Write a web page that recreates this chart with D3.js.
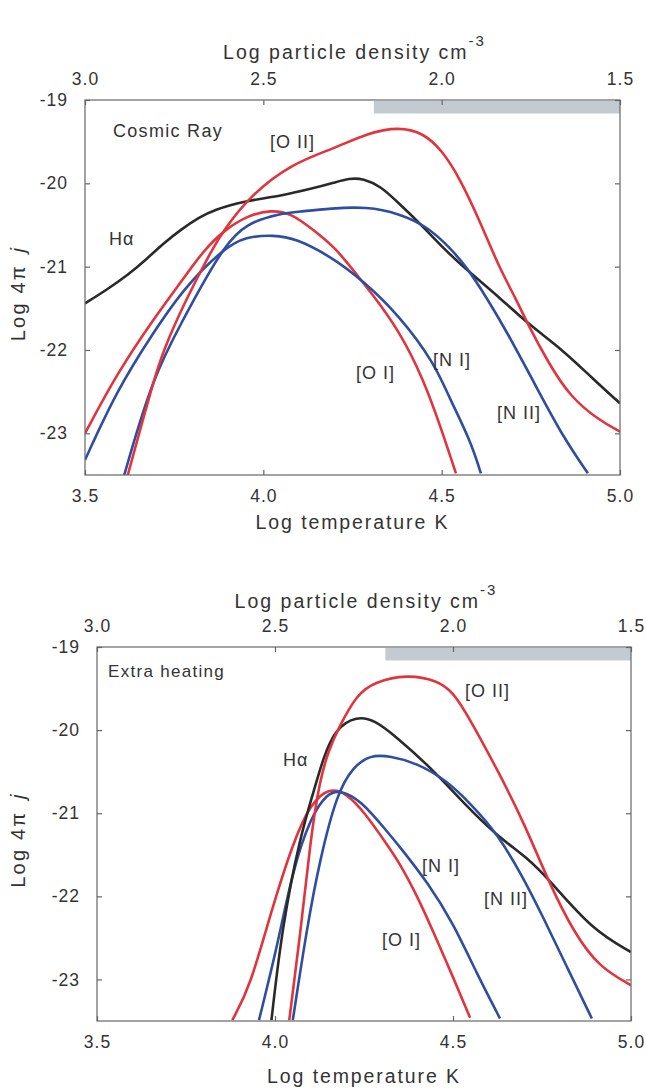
<!DOCTYPE html>
<html>
<head>
<meta charset="utf-8">
<script src="https://cdn.jsdelivr.net/npm/d3@7"></script>
<style>
  body { margin: 0; background: #fff; }
  svg text { font-family: "Liberation Sans", Arial, sans-serif; fill: #333; }
</style>
</head>
<body>
<svg id="chart" width="646" height="1088"></svg>
<script>
// Axis ticks
const tempTicks = [3.5, 4.0, 4.5, 5.0];
const densityTicks = [3.0, 2.5, 2.0, 1.5];
const emissTicks = [-19, -20, -21, -22, -23];

// Density range of the shaded band under the top axis
const bandDensity = [2.19, 1.5];
const bandEmiss = [-19, -19.15];

// Cosmic ray heating: [log T, log 4πj]
const crHalpha = [[3.50,-21.44],[3.56,-21.28],[3.62,-21.10],[3.67,-20.92],[3.72,-20.72],[3.77,-20.55],[3.82,-20.41],[3.86,-20.32],[3.95,-20.21],[4.05,-20.15],[4.14,-20.06],[4.20,-19.99],[4.24,-19.94],[4.28,-19.94],[4.33,-20.04],[4.37,-20.20],[4.43,-20.44],[4.50,-20.76],[4.57,-21.04],[4.66,-21.36],[4.74,-21.68],[4.84,-22.00],[4.92,-22.33],[5.00,-22.64]];
const crOII = [[3.62,-23.50],[3.69,-22.40],[3.72,-22.00],[3.78,-21.42],[3.86,-20.76],[3.89,-20.56],[3.96,-20.16],[4.08,-19.76],[4.20,-19.58],[4.29,-19.40],[4.38,-19.32],[4.45,-19.40],[4.50,-19.60],[4.55,-19.93],[4.61,-20.48],[4.66,-21.00],[4.71,-21.40],[4.74,-21.68],[4.80,-22.16],[4.86,-22.56],[4.94,-22.84],[5.00,-22.98]];
const crOI = [[3.50,-23.00],[3.59,-22.28],[3.69,-21.64],[3.78,-21.12],[3.83,-20.82],[3.89,-20.56],[3.96,-20.38],[4.02,-20.32],[4.08,-20.36],[4.14,-20.56],[4.20,-20.76],[4.27,-21.14],[4.30,-21.30],[4.38,-21.76],[4.45,-22.36],[4.50,-22.96],[4.54,-23.48]];
const crNI = [[3.50,-23.32],[3.59,-22.48],[3.69,-21.80],[3.78,-21.24],[3.89,-20.78],[3.95,-20.64],[4.03,-20.62],[4.09,-20.66],[4.19,-20.88],[4.28,-21.17],[4.38,-21.58],[4.48,-22.16],[4.52,-22.56],[4.58,-23.08],[4.61,-23.48]];
const crNII = [[3.61,-23.50],[3.69,-22.32],[3.78,-21.60],[3.82,-21.28],[3.89,-20.76],[3.95,-20.48],[4.05,-20.36],[4.10,-20.34],[4.19,-20.30],[4.29,-20.28],[4.38,-20.36],[4.46,-20.52],[4.52,-20.76],[4.57,-21.00],[4.63,-21.40],[4.68,-21.76],[4.77,-22.48],[4.84,-23.04],[4.91,-23.48]];

// Extra heating: [log T, log 4πj]
const ehHalpha = [[3.99,-23.49],[4.02,-22.37],[4.07,-21.29],[4.11,-20.72],[4.135,-20.34],[4.17,-19.98],[4.23,-19.83],[4.28,-19.88],[4.34,-20.08],[4.44,-20.46],[4.53,-20.88],[4.62,-21.26],[4.71,-21.54],[4.77,-21.80],[4.89,-22.40],[5.00,-22.67]];
const ehOII = [[4.04,-23.49],[4.07,-22.50],[4.10,-21.30],[4.126,-20.60],[4.15,-20.25],[4.18,-19.96],[4.23,-19.57],[4.28,-19.42],[4.37,-19.33],[4.455,-19.40],[4.50,-19.54],[4.544,-19.84],[4.63,-20.52],[4.70,-21.12],[4.77,-21.84],[4.84,-22.44],[4.91,-22.85],[5.00,-23.07]];
const ehOI = [[3.88,-23.49],[3.93,-23.09],[3.99,-22.17],[4.05,-21.36],[4.10,-20.88],[4.154,-20.69],[4.20,-20.76],[4.25,-20.98],[4.315,-21.38],[4.35,-21.60],[4.40,-22.00],[4.444,-22.42],[4.50,-22.97],[4.548,-23.46]];
const ehNI = [[3.955,-23.49],[4.006,-22.61],[4.05,-21.68],[4.10,-21.05],[4.146,-20.76],[4.183,-20.72],[4.24,-20.84],[4.315,-21.22],[4.35,-21.40],[4.43,-21.84],[4.50,-22.32],[4.567,-22.93],[4.632,-23.47]];
const ehNII = [[4.05,-23.49],[4.09,-22.37],[4.126,-21.56],[4.174,-20.76],[4.22,-20.44],[4.267,-20.30],[4.323,-20.31],[4.40,-20.40],[4.48,-20.60],[4.548,-20.88],[4.624,-21.24],[4.697,-21.77],[4.753,-22.25],[4.82,-22.85],[4.89,-23.47]];

const RED = "#e1353e", BLUE = "#2f4e9f", BLACK = "#2a2a2a";

const panels = [
  {
    id: "cr", left: 85, right: 620, top: 100, bottom: 475,
    xTitleDy: 54, topTitleDy: -41,
    title: "Cosmic Ray", titlePos: [113, 137],
    series: [
      { data: crHalpha, color: BLACK },
      { data: crOI, color: RED },
      { data: crNI, color: BLUE },
      { data: crNII, color: BLUE },
      { data: crOII, color: RED }
    ],
    labels: [
      { t: "[O II]", x: 270, y: 148 },
      { t: "Hα", x: 109, y: 245 },
      { t: "[O I]", x: 356, y: 379 },
      { t: "[N I]", x: 433, y: 366 },
      { t: "[N II]", x: 497, y: 419 }
    ]
  },
  {
    id: "eh", left: 97, right: 631, top: 647, bottom: 1021,
    xTitleDy: 62, topTitleDy: -39,
    title: "Extra heating", titlePos: [108, 677],
    series: [
      { data: ehOI, color: RED },
      { data: ehNI, color: BLUE },
      { data: ehHalpha, color: BLACK },
      { data: ehNII, color: BLUE },
      { data: ehOII, color: RED }
    ],
    labels: [
      { t: "[O II]", x: 465, y: 697 },
      { t: "Hα", x: 283, y: 766 },
      { t: "[N I]", x: 422, y: 872 },
      { t: "[N II]", x: 484, y: 905 },
      { t: "[O I]", x: 382, y: 946 }
    ]
  }
];

const svg = d3.select("#chart");

panels.forEach(p => {
  const x = d3.scaleLinear().domain([3.5, 5.0]).range([p.left, p.right]);
  const xd = d3.scaleLinear().domain([3.0, 1.5]).range([p.left, p.right]);
  const y = d3.scaleLinear().domain([-23.5, -19]).range([p.bottom, p.top]);
  const g = svg.append("g");
  const w = p.right - p.left, h = p.bottom - p.top;

  g.append("clipPath").attr("id", "clip-" + p.id)
    .append("rect").attr("x", p.left).attr("y", p.top).attr("width", w).attr("height", h);

  // shaded density band below the top axis
  g.append("rect")
    .attr("x", xd(bandDensity[0]))
    .attr("y", y(bandEmiss[0]) + 1)
    .attr("width", xd(bandDensity[1]) - xd(bandDensity[0]))
    .attr("height", y(bandEmiss[1]) - y(bandEmiss[0]))
    .attr("fill", "#c4cad2");

  // emission curves
  const line = d3.line()
    .x(d => x(d[0])).y(d => y(d[1]))
    .curve(d3.curveBasis);
  const lines = g.append("g").attr("clip-path", `url(#clip-${p.id})`);
  p.series.forEach(s => {
    lines.append("path").attr("d", line(s.data))
      .attr("fill", "none").attr("stroke", s.color)
      .attr("stroke-width", 2.6).attr("stroke-linejoin", "round");
  });

  // axes with inward ticks
  const tickLen = 5;
  const styleAxis = sel => {
    sel.select(".domain").remove();
    sel.selectAll(".tick line").attr("stroke", "#666").attr("stroke-width", 1.2);
    sel.selectAll(".tick text").attr("fill", "#333")
      .style("font-size", "17.5px").style("letter-spacing", "1px")
      .style("font-family", '"Liberation Sans", Arial, sans-serif');
  };
  g.append("g").attr("transform", `translate(0,${p.bottom})`)
    .call(d3.axisBottom(x).tickValues(tempTicks).tickFormat(d3.format(".1f"))
      .tickSizeInner(-tickLen).tickSizeOuter(0).tickPadding(15))
    .call(styleAxis);
  g.append("g").attr("transform", `translate(0,${p.top})`)
    .call(d3.axisTop(xd).tickValues(densityTicks).tickFormat(d3.format(".1f"))
      .tickSizeInner(-tickLen).tickSizeOuter(0).tickPadding(15))
    .call(styleAxis);
  g.append("g").attr("transform", `translate(${p.left},0)`)
    .call(d3.axisLeft(y).tickValues(emissTicks).tickFormat(d => String(d))
      .tickSizeInner(-tickLen).tickSizeOuter(0).tickPadding(17))
    .call(styleAxis);
  g.append("g").attr("transform", `translate(${p.right},0)`)
    .call(d3.axisRight(y).tickValues(emissTicks).tickFormat(""))
    .call(sel => {
      sel.select(".domain").remove();
      sel.selectAll(".tick line").attr("x2", -tickLen).attr("stroke", "#666").attr("stroke-width", 1.2);
    });

  // frame
  g.append("rect").attr("x", p.left).attr("y", p.top).attr("width", w).attr("height", h)
    .attr("fill", "none").attr("stroke", "#666").attr("stroke-width", 1.2);

  const cx = (p.left + p.right) / 2;
  // bottom axis title
  g.append("text").attr("x", cx).attr("y", p.bottom + p.xTitleDy)
    .attr("text-anchor", "middle").style("font-size", "19.5px").style("letter-spacing", "1.9px")
    .text("Log temperature K");
  // top axis title with superscript
  const tt = g.append("text").attr("x", cx + 2).attr("y", p.top + p.topTitleDy)
    .attr("text-anchor", "middle").style("font-size", "19.5px").style("letter-spacing", "2px");
  tt.append("tspan").text("Log particle density cm");
  tt.append("tspan").attr("dy", -13).style("font-size", "15px").text("-3");
  // y axis title
  const yt = g.append("text")
    .attr("transform", `translate(25,${(p.top + p.bottom) / 2 + 6}) rotate(-90)`)
    .attr("text-anchor", "middle").style("font-size", "20px").style("letter-spacing", "2.2px");
  yt.append("tspan").text("Log 4π ");
  yt.append("tspan").attr("dx", 4).style("font-style", "italic").text("j");

  // panel title and line labels
  g.append("text").attr("x", p.titlePos[0]).attr("y", p.titlePos[1])
    .style("font-size", p.id === "cr" ? "18px" : "17px").style("letter-spacing", "1.3px")
    .text(p.title);
  p.labels.forEach(l => {
    g.append("text").attr("x", l.x).attr("y", l.y)
      .style("font-size", "18px").style("letter-spacing", "1px")
      .text(l.t);
  });
});
</script>
</body>
</html>
